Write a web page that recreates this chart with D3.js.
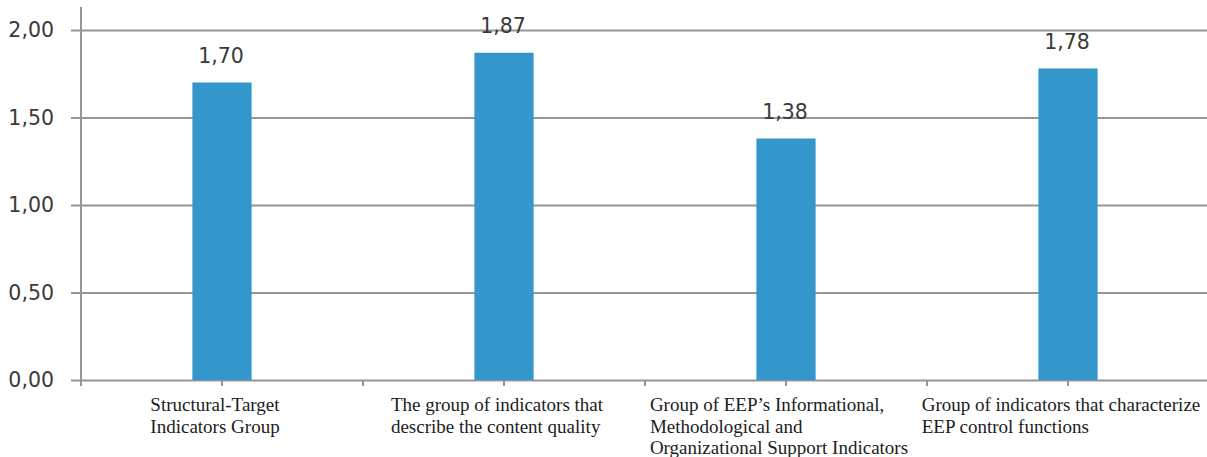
<!DOCTYPE html>
<html>
<head>
<meta charset="utf-8">
<script src="https://cdn.jsdelivr.net/npm/d3@7"></script>
<style>
  html, body { margin: 0; padding: 0; background: #fff; }
  svg { display: block; }
</style>
</head>
<body>
<svg id="chart" width="1207" height="457"></svg>
<script>
// Indicator groups and their mean scores
const categories = [
  ["Structural-Target", "Indicators Group"],
  ["The group of indicators that", "describe the content quality"],
  ["Group of EEP\u2019s Informational,", "Methodological and", "Organizational Support Indicators"],
  ["Group of indicators that characterize", "EEP control functions"]
];
const values = [1.70, 1.87, 1.38, 1.78];
const yTicks = [0, 0.5, 1.0, 1.5, 2.0];

const W = 1207, H = 457;
const margin = { left: 81, right: -2, top: 30, bottom: 77 };

const svg = d3.select("#chart");
const fmt = v => d3.format(".2f")(v).replace(".", ",");

const x = d3.scaleBand()
  .domain(d3.range(categories.length))
  .range([margin.left, W - margin.right])
  .padding(0);

const y = d3.scaleLinear()
  .domain([0, 2])
  .range([H - margin.bottom, margin.top]);

const gridColor = "#959595";

// horizontal gridlines with tick labels
const yAxis = d3.axisLeft(y)
  .tickValues(yTicks)
  .tickSize(-(W - margin.left))
  .tickSizeOuter(0)
  .tickPadding(27)
  .tickFormat(fmt);

const gy = svg.append("g")
  .attr("transform", `translate(${margin.left},0)`)
  .call(yAxis);
gy.select(".domain").remove();
gy.selectAll(".tick line")
  .attr("x1", -10)
  .attr("stroke", gridColor)
  .attr("stroke-width", 2);
gy.selectAll(".tick text")
  .attr("fill", "#3a3a3a")
  .style("font-family", "'DejaVu Sans', sans-serif")
  .style("font-size", "20.5px");

// vertical axis line
svg.append("line")
  .attr("x1", margin.left).attr("x2", margin.left)
  .attr("y1", 7).attr("y2", y(0))
  .attr("stroke", gridColor).attr("stroke-width", 2);

// category axis ticks: group boundaries and group centres
const tickPos = [];
x.domain().forEach(i => {
  tickPos.push(x(i));
  tickPos.push(x(i) + x.bandwidth() / 2);
});
svg.append("g").selectAll("line")
  .data(tickPos)
  .join("line")
  .attr("x1", d => d).attr("x2", d => d)
  .attr("y1", y(0)).attr("y2", y(0) + 6)
  .attr("stroke", gridColor).attr("stroke-width", 2);

// bars
const barW = x.bandwidth() * 0.21;
svg.append("g").selectAll("rect")
  .data(values)
  .join("rect")
  .attr("x", (d, i) => x(i) + x.bandwidth() / 2 - barW / 2)
  .attr("y", d => y(d))
  .attr("width", barW)
  .attr("height", d => y(0) - y(d))
  .attr("fill", "#3397cb");

// value labels
svg.append("g").selectAll("text")
  .data(values)
  .join("text")
  .attr("x", (d, i) => x(i) + x.bandwidth() / 2 - 1)
  .attr("y", d => y(d) - 20)
  .attr("text-anchor", "middle")
  .attr("fill", "#3a3a3a")
  .style("font-family", "'DejaVu Sans', sans-serif")
  .style("font-size", "20.5px")
  .text(fmt);

// category labels, left-aligned lines in a block centred under each group
const labelG = svg.append("g")
  .style("font-family", "'Liberation Serif', 'Times New Roman', serif")
  .style("font-size", "19px")
  .attr("fill", "#1c1c1c");

categories.forEach((lines, i) => {
  const t = labelG.append("text");
  lines.forEach((ln, j) => {
    t.append("tspan")
      .attr("y", 411 + j * 21.5)
      .text(ln);
  });
  const widths = [];
  t.selectAll("tspan").each(function() { widths.push(this.getComputedTextLength()); });
  const left = x(i) + x.bandwidth() / 2 - d3.max(widths) / 2 - 7;
  t.selectAll("tspan").attr("x", left);
});
</script>
</body>
</html>
